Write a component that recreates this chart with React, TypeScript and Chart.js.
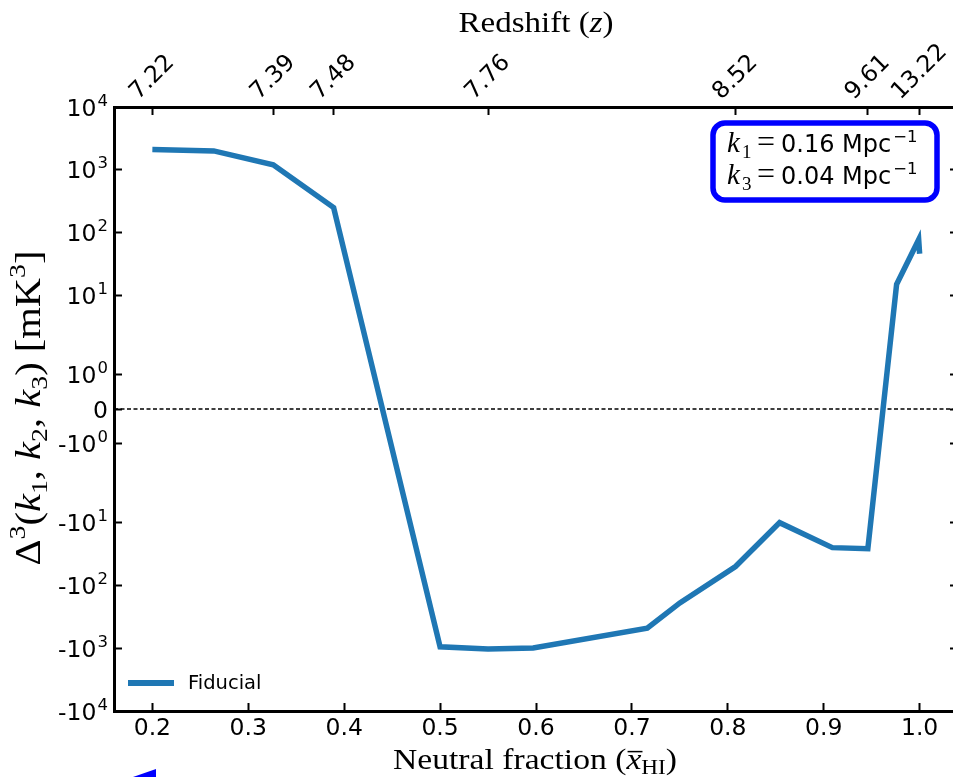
import React, { useEffect, useRef } from 'react';
import { Chart, registerables, LinearScale } from 'chart.js';

// ---------------- data ----------------
const XHI = [0.2, 0.264, 0.326, 0.389, 0.5, 0.55, 0.597, 0.716, 0.75, 0.808, 0.854, 0.909, 0.946, 0.976, 0.999, 1.0];
const DELTA3 = [2100, 2000, 1200, 250, -950, -1030, -990, -480, -190, -50, -10, -25, -26, 15, 77, 46];
const SERIES_LABEL = 'Fiducial';

const X_TICKS = [0.2, 0.3, 0.4, 0.5, 0.6, 0.7, 0.8, 0.9, 1.0];
const X_RANGE = [0.16, 1.04];

const Y_TICKS = [10000, 1000, 100, 10, 1, 0, -1, -10, -100, -1000, -10000];
const Y_TICK_SIGN = ['', '', '', '', '', '', '-', '-', '-', '-', '-'];
const Y_TICK_BASE = ['10', '10', '10', '10', '10', '0', '10', '10', '10', '10', '10'];
const Y_TICK_EXP = ['4', '3', '2', '1', '0', '', '0', '1', '2', '3', '4'];
const Y_RANGE = [-10000, 10000];

const Z_TICK_POS = [0.2, 0.326, 0.389, 0.55, 0.808, 0.946, 1.0];
const Z_TICK_LABELS = ['7.22', '7.39', '7.48', '7.76', '8.52', '9.61', '13.22'];

const K_SUBS = ['1', '3'];
const K_VALUES = ['0.16', '0.04'];

// ---------------- symlog scale ----------------
const LINTHRESH = 2;
const LIN_A = 1 / (1 - 1 / 10);
function symlog(v: number) {
  const a = Math.abs(v);
  if (a <= LINTHRESH) return v * LIN_A;
  return Math.sign(v) * LINTHRESH * (LIN_A + Math.log10(a / LINTHRESH));
}
function symlogInv(u: number) {
  const a = Math.abs(u);
  if (a <= LINTHRESH * LIN_A) return u / LIN_A;
  return Math.sign(u) * LINTHRESH * Math.pow(10, a / LINTHRESH - LIN_A);
}

class SymlogScale extends LinearScale {
  static id = 'symlog';
  static defaults = LinearScale.defaults;
  _sMin = 0;
  _sMax = 1;
  configure() {
    super.configure();
    this._sMin = symlog(this.min);
    this._sMax = symlog(this.max);
  }
  getPixelForValue(value: number) {
    return this.getPixelForDecimal((symlog(value) - this._sMin) / (this._sMax - this._sMin));
  }
  getValueForPixel(pixel: number) {
    const d = this.getDecimalForPixel(pixel);
    return symlogInv(this._sMin + d * (this._sMax - this._sMin));
  }
}

Chart.register(...registerables, SymlogScale);

// ---------------- styling helpers ----------------
const SERIF = '"Liberation Serif", "DejaVu Serif", serif';
const SANS = '"DejaVu Sans", sans-serif';
const LINE_COLOR = '#1f77b4';
const TICK_SIZE = 23.5;

type Seg = { t: string; size: number; family?: string; style?: string; dy?: number; bar?: boolean };
const segFont = (s: Seg) => `${s.style || 'normal'} ${s.size}px ${s.family || SERIF}`;

function drawSegs(ctx: CanvasRenderingContext2D, segs: Seg[], x: number, y: number, target?: number) {
  let w = 0;
  const ws = segs.map((s) => {
    ctx.font = segFont(s);
    const m = ctx.measureText(s.t).width;
    w += m;
    return m;
  });
  const sx = target ? target / w : 1;
  ctx.save();
  ctx.translate(x, y);
  ctx.scale(sx, 1);
  ctx.textAlign = 'left';
  ctx.textBaseline = 'alphabetic';
  let cx = -w / 2;
  segs.forEach((s, i) => {
    ctx.font = segFont(s);
    ctx.fillText(s.t, cx, s.dy || 0);
    if (s.bar) {
      ctx.beginPath();
      ctx.lineWidth = 1.5;
      ctx.strokeStyle = '#000';
      ctx.moveTo(cx + 1, -s.size * 0.6);
      ctx.lineTo(cx + ws[i] + 1, -s.size * 0.6);
      ctx.stroke();
    }
    cx += ws[i];
  });
  ctx.restore();
}

const decorPlugin = {
  id: 'decor',
  afterDraw(chart: any) {
    const ctx: CanvasRenderingContext2D = chart.ctx;
    const x2 = chart.scales.x2;
    const ys = chart.scales.y;
    ctx.save();
    ctx.fillStyle = '#000';

    // y tick labels with superscript exponents
    ctx.textBaseline = 'alphabetic';
    ctx.textAlign = 'left';
    Y_TICKS.forEach((v, i) => {
      const py = ys.getPixelForValue(v);
      const base = Y_TICK_SIGN[i] + Y_TICK_BASE[i];
      const exp = Y_TICK_EXP[i];
      ctx.font = `${TICK_SIZE}px ${SANS}`;
      const wb = ctx.measureText(base).width;
      ctx.font = `16.5px ${SANS}`;
      const we = exp ? ctx.measureText(exp).width : 0;
      const right = 108;
      const bx = right - we - wb - (exp ? 1 : 0);
      const by = py + 8.5;
      ctx.font = `${TICK_SIZE}px ${SANS}`;
      ctx.fillText(base, bx, by);
      if (exp) {
        ctx.font = `16.5px ${SANS}`;
        ctx.fillText(exp, right - we, by - 10);
      }
    });

    // top redshift tick labels (rotated 45°)
    ctx.font = `${TICK_SIZE}px ${SANS}`;
    Z_TICK_POS.forEach((v, i) => {
      const px = x2.getPixelForValue(v);
      const w = ctx.measureText(Z_TICK_LABELS[i]).width;
      const ext = (w + 17) * Math.SQRT1_2;
      ctx.save();
      ctx.translate(px, 102 - ext / 2);
      ctx.rotate(-Math.PI / 4);
      ctx.textAlign = 'center';
      ctx.textBaseline = 'middle';
      ctx.fillText(Z_TICK_LABELS[i], 0, 0);
      ctx.restore();
    });

    // titles
    drawSegs(ctx, [
      { t: 'Redshift (', size: 29 },
      { t: 'z', size: 29, style: 'italic' },
      { t: ')', size: 29 },
    ], 536, 32, 155);

    drawSegs(ctx, [
      { t: 'Neutral fraction (', size: 29 },
      { t: 'x', size: 29, style: 'italic', bar: true },
      { t: 'HI', size: 20, dy: 5 },
      { t: ')', size: 29 },
    ], 535, 769, 284);

    ctx.save();
    ctx.translate(40, 408);
    ctx.rotate(-Math.PI / 2);
    drawSegs(ctx, [
      { t: 'Δ', size: 35 },
      { t: '3', size: 24, dy: -15 },
      { t: '(', size: 35 },
      { t: 'k', size: 35, style: 'italic' },
      { t: '1', size: 24, dy: 7 },
      { t: ', ', size: 35 },
      { t: 'k', size: 35, style: 'italic' },
      { t: '2', size: 24, dy: 7 },
      { t: ', ', size: 35 },
      { t: 'k', size: 35, style: 'italic' },
      { t: '3', size: 24, dy: 7 },
      { t: ') [mK', size: 35 },
      { t: '3', size: 24, dy: -15 },
      { t: ']', size: 35 },
    ], 0, 0, 315);
    ctx.restore();

    // legend (inside lower-left)
    ctx.beginPath();
    ctx.strokeStyle = LINE_COLOR;
    ctx.lineWidth = 6;
    ctx.lineCap = 'butt';
    ctx.moveTo(128, 683);
    ctx.lineTo(174, 683);
    ctx.stroke();
    ctx.fillStyle = '#000';
    ctx.font = `19.5px ${SANS}`;
    ctx.textAlign = 'left';
    ctx.textBaseline = 'middle';
    ctx.fillText(SERIES_LABEL, 188, 684);

    // annotation box
    ctx.beginPath();
    (ctx as any).roundRect(713, 123, 224, 77, 12);
    ctx.fillStyle = '#fff';
    ctx.fill();
    ctx.lineWidth = 5.5;
    ctx.strokeStyle = '#0000ff';
    ctx.stroke();
    ctx.fillStyle = '#000';
    ctx.textBaseline = 'alphabetic';
    K_SUBS.forEach((sub, i) => {
      const by = 152 + i * 32;
      ctx.font = `italic 29px ${SERIF}`;
      ctx.fillText('k', 727, by);
      ctx.font = `19px ${SERIF}`;
      ctx.fillText(sub, 742, by + 6);
      ctx.font = `32px ${SERIF}`;
      ctx.fillText('=', 757, by);
      ctx.font = `24px ${SANS}`;
      const txt = `${K_VALUES[i]} Mpc`;
      ctx.fillText(txt, 781, by);
      const tw = ctx.measureText(txt).width;
      ctx.font = `16.5px ${SANS}`;
      ctx.fillText('−1', 781 + tw + 2, by - 10);
    });

    // clipped blue marker at bottom-left
    ctx.beginPath();
    ctx.fillStyle = '#0000ff';
    ctx.moveTo(156, 769);
    ctx.lineTo(156, 777);
    ctx.lineTo(133, 777);
    ctx.closePath();
    ctx.fill();

    ctx.restore();
  },
};

const tickGrid = {
  drawOnChartArea: false,
  drawTicks: true,
  tickLength: -8,
  tickWidth: 2,
  tickColor: '#000',
  color: '#000',
};
const border = { display: true, color: '#000', width: 3 };

export default function App() {
  const ref = useRef<HTMLCanvasElement>(null);
  useEffect(() => {
    const canvas = ref.current!;
    const chart = new Chart(canvas, {
      type: 'line',
      data: {
        datasets: [
          {
            label: SERIES_LABEL,
            data: XHI.map((x, i) => ({ x, y: DELTA3[i] })),
            borderColor: LINE_COLOR,
            borderWidth: 5.5,
            pointRadius: 0,
            tension: 0,
            borderJoinStyle: 'miter',
            borderCapStyle: 'butt',
            fill: false,
          },
          {
            label: 'zero',
            data: [{ x: X_RANGE[0], y: 0 }, { x: X_RANGE[1], y: 0 }],
            borderColor: '#000',
            borderWidth: 1.3,
            borderDash: [4, 2.5],
            pointRadius: 0,
            fill: false,
          },
        ],
      },
      options: {
        responsive: false,
        animation: false,
        devicePixelRatio: 1,
        layout: { padding: 0 },
        plugins: { legend: { display: false }, tooltip: { enabled: false } },
        scales: {
          x: {
            type: 'linear',
            position: 'bottom',
            min: X_RANGE[0],
            max: X_RANGE[1],
            afterBuildTicks: (s: any) => { s.ticks = X_TICKS.map((v) => ({ value: v })); },
            afterFit: (s: any) => { s.height = 66; },
            ticks: {
              autoSkip: false,
              maxRotation: 0,
              padding: 12,
              color: '#000',
              font: { family: SANS, size: TICK_SIZE },
              callback: (v: any) => Number(v).toFixed(1),
            },
            grid: tickGrid,
            border,
          },
          x2: {
            type: 'linear',
            position: 'top',
            min: X_RANGE[0],
            max: X_RANGE[1],
            afterBuildTicks: (s: any) => { s.ticks = Z_TICK_POS.map((v) => ({ value: v })); },
            afterFit: (s: any) => { s.height = 107; },
            ticks: { display: false, autoSkip: false },
            grid: tickGrid,
            border,
          },
          y: {
            type: 'symlog',
            position: 'left',
            min: Y_RANGE[0],
            max: Y_RANGE[1],
            afterBuildTicks: (s: any) => { s.ticks = Y_TICKS.map((v) => ({ value: v })); },
            afterFit: (s: any) => { s.width = 114; },
            ticks: { display: false, autoSkip: false },
            grid: tickGrid,
            border,
          },
          y2: {
            type: 'symlog',
            position: 'right',
            min: Y_RANGE[0],
            max: Y_RANGE[1],
            afterBuildTicks: (s: any) => { s.ticks = Y_TICKS.map((v) => ({ value: v })); },
            afterFit: (s: any) => { s.width = 12; },
            ticks: { display: false, autoSkip: false },
            grid: tickGrid,
            border,
          },
        },
      } as any,
      plugins: [decorPlugin],
    } as any);
    return () => chart.destroy();
  }, []);
  return (
    <div style={{ position: 'absolute', left: 0, top: 0, width: 953, height: 777, overflow: 'hidden', background: '#fff' }}>
      <canvas ref={ref} width={970} height={777} style={{ display: 'block' }} />
    </div>
  );
}
